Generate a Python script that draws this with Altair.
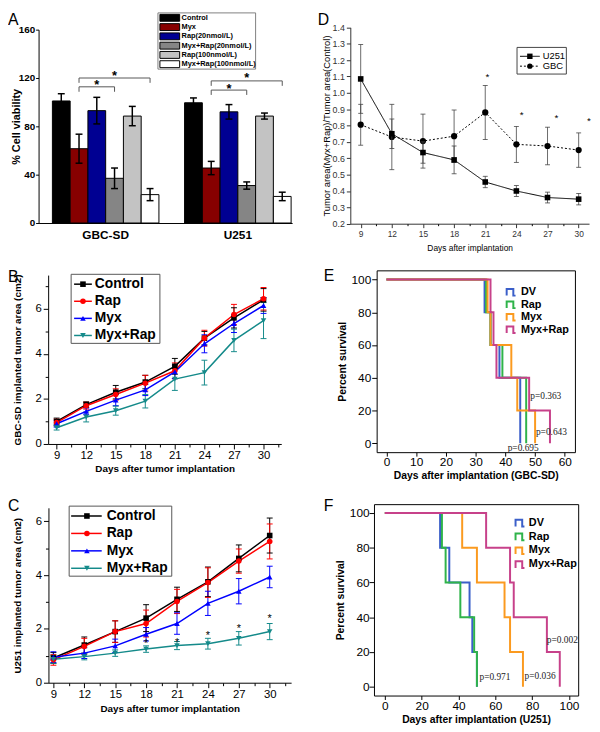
import altair as alt
import pandas as pd

W, H = 592, 724
SANS = "Liberation Sans"
SERIF = "Liberation Serif"

# ===================== DATA =====================
# ---- Panel A : cell viability ----
groupsA = ["GBC-SD", "U251"]
seriesA = ["Control", "Myx", "Rap(20nmol/L)", "Myx+Rap(20nmol/L)", "Rap(100nmol/L)", "Myx+Rap(100nmol/L)"]
colorsA = ["#000000", "#870000", "#000092", "#858585", "#c3c3c3", "#ffffff"]
gbc_viab = [101.0, 61.5, 93.0, 37.0, 88.5, 23.5]
gbc_viab_err = [6.0, 12.0, 11.0, 8.5, 8.0, 5.0]
u251_viab = [99.5, 45.5, 92.0, 31.0, 88.5, 22.0]
u251_viab_err = [4.0, 5.5, 6.0, 3.0, 2.5, 3.5]
br_group = ["GBC-SD", "GBC-SD", "U251", "U251"]
br_from = ["Myx", "Myx", "Myx", "Myx"]
br_to = ["Myx+Rap(20nmol/L)", "Myx+Rap(100nmol/L)", "Myx+Rap(20nmol/L)", "Myx+Rap(100nmol/L)"]
br_top = [112.7, 120.0, 110.0, 117.6]
br_leg = [108.6, 116.0, 106.0, 113.5]
br_star_at = ["Rap(20nmol/L)", "Myx+Rap(20nmol/L)", "Rap(20nmol/L)", "Myx+Rap(20nmol/L)"]
br_star_val = [116.7, 124.0, 113.5, 122.0]
yticksA = [0, 40, 80, 120, 160]

# ---- Panels B, C : tumour growth ----
days = [9, 12, 15, 18, 21, 24, 27, 30]
minor_days = [10.5, 13.5, 16.5, 19.5, 22.5, 25.5, 28.5, 31.5]
seriesBC = ["Control", "Rap", "Myx", "Myx+Rap"]
colorsBC = ["#000000", "#ff0000", "#0000ff", "#148a8a"]
shapesBC = ["square", "circle", "triangle-up", "triangle-down"]

gbc_ctrl = [1.0, 1.75, 2.3, 2.75, 3.45, 4.7, 5.6, 6.4]
gbc_rap = [0.95, 1.7, 2.2, 2.7, 3.25, 4.7, 5.75, 6.45]
gbc_myx = [0.9, 1.45, 1.95, 2.4, 3.2, 4.45, 5.35, 6.15]
gbc_mr = [0.72, 1.2, 1.48, 1.9, 2.88, 3.17, 4.6, 5.48]
gbc_ctrl_err = [0.15, 0.12, 0.3, 0.3, 0.35, 0.3, 0.45, 0.5]
gbc_rap_err = [0.15, 0.15, 0.25, 0.35, 0.35, 0.35, 0.45, 0.5]
gbc_myx_err = [0.15, 0.15, 0.25, 0.25, 0.3, 0.4, 0.4, 0.35]
gbc_mr_err = [0.1, 0.22, 0.2, 0.3, 0.5, 0.55, 0.5, 0.8]

u_ctrl = [0.92, 1.4, 1.9, 2.4, 3.1, 3.75, 4.62, 5.47]
u_rap = [0.85, 1.35, 1.9, 2.2, 3.02, 3.72, 4.52, 5.25]
u_myx = [0.95, 1.1, 1.37, 1.8, 2.2, 2.95, 3.4, 3.93]
u_mr = [0.87, 0.97, 1.1, 1.25, 1.38, 1.45, 1.65, 1.9]
u_ctrl_err = [0.2, 0.3, 0.4, 0.5, 0.45, 0.55, 0.5, 0.65]
u_rap_err = [0.2, 0.3, 0.4, 0.5, 0.45, 0.55, 0.45, 0.65]
u_myx_err = [0.2, 0.2, 0.25, 0.25, 0.4, 0.45, 0.47, 0.4]
u_mr_err = [0.15, 0.12, 0.12, 0.12, 0.15, 0.2, 0.25, 0.3]
starsC_day = [18, 21, 24, 27, 30]
starsC_val = [1.54, 1.6, 1.84, 2.1, 2.46]

# ---- Panel D : ratio ----
seriesD = ["U251", "GBC"]
u251_ratio = [1.085, 0.75, 0.635, 0.59, 0.455, 0.40, 0.36, 0.35]
u251_ratio_err = [0.21, 0.09, 0.065, 0.085, 0.035, 0.033, 0.033, 0.035]
gbc_ratio = [0.805, 0.73, 0.705, 0.735, 0.88, 0.685, 0.675, 0.65]
gbc_ratio_err = [0.125, 0.2, 0.165, 0.16, 0.165, 0.11, 0.115, 0.105]
starsD_day = [21.2, 24.5, 27.85, 31.0]
starsD_val = [1.11, 0.875, 0.86, 0.84]
yticksD = [0.2, 0.3, 0.4, 0.5, 0.6, 0.7, 0.8, 0.9, 1.0, 1.1, 1.2, 1.3, 1.4]

# ---- Panels E, F : survival ----
seriesKM = ["DV", "Rap", "Myx", "Myx+Rap"]
colorsKM = ["#3b5fc9", "#2fb34a", "#fb9a1f", "#c7418a"]
e_days = {"DV": [0, 33, 35, 38, 45], "Rap": [0, 33.5, 35, 39, 47],
          "Myx": [0, 34, 35, 42, 44, 50], "Myx+Rap": [0, 35, 36, 37, 48, 55]}
e_surv = {"DV": [100, 80, 60, 40, 0], "Rap": [100, 80, 60, 40, 0],
          "Myx": [100, 80, 60, 40, 20, 0], "Myx+Rap": [100, 80, 60, 40, 20, 0]}
f_days = {"DV": [0, 30, 35, 46, 47.5, 50], "Rap": [0, 31, 33, 41, 48.5, 50],
          "Myx": [0, 42, 50, 65, 68, 75], "Myx+Rap": [0, 55, 68, 70, 88, 95]}
f_surv = {"DV": [100, 80, 60, 40, 20, 0], "Rap": [100, 80, 60, 40, 20, 0],
          "Myx": [100, 80, 60, 40, 20, 0], "Myx+Rap": [100, 80, 60, 40, 20, 0]}
e_p_text = ["p=0.363", "p=0.643", "p=0.695"]
e_p_day = [53.6, 55.5, 46.0]
e_p_val = [28.7, 6.6, -2.8]
f_p_text = ["p=0.002", "p=0.971", "p=0.036"]
f_p_day = [96.4, 59.8, 84.3]
f_p_val = [26.7, 5.3, 6.25]
ticksE_x = [0, 10, 20, 30, 40, 50, 60]
ticksF_x = [0, 20, 40, 60, 80, 100]
ticks_surv = [0, 20, 40, 60, 80, 100]

one = pd.DataFrame({"k": [0]})


# ===================== HELPERS =====================
def ax(orient, pos, **kw):
    off = {"left": -pos, "top": -pos, "right": pos - W, "bottom": pos - H}[orient]
    p = dict(orient=orient, offset=off, grid=False, domainColor="black", domainWidth=1,
             tickColor="black", tickWidth=1, labelColor="black", titleColor="black",
             labelFont=SANS, titleFont=SANS, labelFlush=False, labelOverlap=False)
    p.update(kw)
    return alt.Axis(**p)


def frame_ax(orient, pos):
    return ax(orient, pos, labels=False, ticks=False, title="")


def minor_ax(orient, pos, values, size=3):
    return ax(orient, pos, values=values, labels=False, domain=False, tickSize=size, title="")


# ===================== PANEL A =====================
rowsA = []
for g, means, errs in [("GBC-SD", gbc_viab, gbc_viab_err), ("U251", u251_viab, u251_viab_err)]:
    for s, m, e in zip(seriesA, means, errs):
        rowsA.append({"group": g, "series": s, "mean": m, "lo": m - e, "hi": m + e})
dfA = pd.DataFrame(rowsA)
capsA = pd.concat([dfA.assign(v=dfA["lo"]), dfA.assign(v=dfA["hi"])], ignore_index=True)

sxA = alt.Scale(domain=groupsA, range=[31, 288], paddingInner=0.194, paddingOuter=0.056, align=0.933)
soA = alt.Scale(domain=seriesA, paddingInner=0, paddingOuter=0)
syA = alt.Scale(domain=[0, 160], range=[213, 17], nice=False)
fillA = alt.Scale(domain=seriesA, range=colorsA)
oA = alt.XOffset("series:N", scale=soA)
xA0 = alt.X("group:N", scale=sxA, axis=None)

axesA = alt.Chart(dfA).mark_point(opacity=0).encode(
    x=alt.X("group:N", scale=sxA,
            axis=ax("bottom", 213, ticks=False, labelAngle=0, labelFontSize=12,
                    labelFontWeight="bold", labelPadding=7, title="")),
    y=alt.Y("mean:Q", scale=syA,
            axis=ax("left", 31, values=yticksA, tickSize=3, labelFontSize=10,
                    labelFontWeight="bold", labelPadding=1, title="% Cell viability",
                    titleFontSize=11, titleFontWeight="bold", titlePadding=-3)),
)
barsA = alt.Chart(dfA).mark_bar(stroke="black", strokeWidth=1).encode(
    x=xA0, xOffset=oA,
    y=alt.Y("mean:Q", scale=syA, axis=None),
    fill=alt.Fill("series:N", scale=fillA, legend=None),
)
errA = alt.Chart(dfA).mark_rule(color="black", strokeWidth=1.5).encode(
    x=xA0, xOffset=oA, y=alt.Y("lo:Q", scale=syA, axis=None), y2="hi:Q")
capA = alt.Chart(capsA).mark_tick(color="black", thickness=1.5, size=7, opacity=1,
                                  orient="horizontal").encode(
    x=xA0, xOffset=oA, y=alt.Y("v:Q", scale=syA, axis=None))
brk_rows = []
for i, (g, f, t, top, leg) in enumerate(zip(br_group, br_from, br_to, br_top, br_leg)):
    for k, (s, v) in enumerate([(f, leg), (f, top), (t, top), (t, leg)]):
        brk_rows.append({"id": i, "k": k, "group": g, "series": s, "v": v})
dfBr = pd.DataFrame(brk_rows)
brkA = alt.Chart(dfBr).mark_line(color="#555555", strokeWidth=1).encode(
    x=xA0, xOffset=oA, y=alt.Y("v:Q", scale=syA, axis=None),
    detail="id:N", order="k:Q")
dfSt = pd.DataFrame({"group": br_group, "series": br_star_at, "v": br_star_val})
starA = alt.Chart(dfSt).mark_text(text="*", font=SANS, fontSize=13, fontWeight="bold",
                                  baseline="middle", dy=3).encode(
    x=xA0, xOffset=oA, y=alt.Y("v:Q", scale=syA, axis=None))
panelA = alt.layer(axesA, barsA, errA, capA, brkA, starA).resolve_axis(x="independent", y="independent")

dfLA = pd.DataFrame({"series": seriesA})
yLA = alt.Y("series:N", scale=alt.Scale(type="point", domain=seriesA, range=[5, 52], padding=0), axis=None)
legA = alt.layer(
    alt.Chart(one).mark_rect(fill="white", stroke="#7f7f7f", strokeWidth=1).encode(
        x=alt.value(152), x2=alt.value(251), y=alt.value(0), y2=alt.value(57)),
    alt.Chart(dfLA).mark_point(shape="M-1,-0.35H1V0.35H-1Z", size=400, filled=True,
                               stroke="black", strokeWidth=1, opacity=1).encode(
        x=alt.value(164), y=yLA, fill=alt.Fill("series:N", scale=fillA, legend=None)),
    alt.Chart(dfLA).mark_text(align="left", baseline="middle", font=SANS, fontSize=7.5,
                              fontWeight="bold").encode(x=alt.value(176), y=yLA, text="series:N"),
)


# ===================== PANEL D =====================
def ratio_df(vals, errs):
    return pd.DataFrame({"day": days, "val": vals,
                         "lo": [v - e for v, e in zip(vals, errs)],
                         "hi": [v + e for v, e in zip(vals, errs)]})


dfDu = ratio_df(u251_ratio, u251_ratio_err)
dfDg = ratio_df(gbc_ratio, gbc_ratio_err)
sxD = alt.Scale(domain=[8, 31], range=[347, 589], nice=False, zero=False)
syD = alt.Scale(domain=[0.2, 1.4], range=[213.7, 14.7], nice=False, zero=False)
xD0 = alt.X("day:Q", scale=sxD, axis=None)
GR = "#444444"


def d_layers(df, dash, shape, size):
    caps = pd.concat([df.assign(v=df["lo"]), df.assign(v=df["hi"])], ignore_index=True)
    return [
        alt.Chart(df).mark_rule(color=GR, strokeWidth=0.8).encode(
            x=xD0, y=alt.Y("lo:Q", scale=syD, axis=None), y2="hi:Q"),
        alt.Chart(caps).mark_tick(color=GR, thickness=0.8, size=5, opacity=1, orient="horizontal").encode(
            x=xD0, y=alt.Y("v:Q", scale=syD, axis=None)),
        alt.Chart(df).mark_line(color="black", strokeWidth=1, strokeDash=dash).encode(
            x=xD0, y=alt.Y("val:Q", scale=syD, axis=None)),
        alt.Chart(df).mark_point(shape=shape, filled=True, size=size, color="black", opacity=1).encode(
            x=xD0, y=alt.Y("val:Q", scale=syD, axis=None)),
    ]


axesD = alt.Chart(dfDu).mark_point(opacity=0).encode(
    x=alt.X("day:Q", scale=sxD,
            axis=ax("bottom", 213.7, values=days, tickSize=4, labelFontSize=8.5, labelPadding=2,
                    labelColor="#333333", domainColor="#333333", tickColor="#333333",
                    title="Days after implantation", titleFontSize=8.5, titleFontWeight="normal",
                    titlePadding=6)),
    y=alt.Y("val:Q", scale=syD,
            axis=ax("left", 347, values=yticksD, format=".1f", tickSize=4, labelFontSize=9,
                    labelPadding=2, labelColor="#333333", domainColor="#333333", tickColor="#333333",
                    title="Tumor area(Myx+Rap)/Tumor area(Control)", titleFontSize=9.5,
                    titleFontWeight="normal", titlePadding=1)),
)
minorD = alt.Chart(dfDu).mark_point(opacity=0).encode(
    x=alt.X("day:Q", scale=sxD, axis=minor_ax("bottom", 213.7, minor_days[:-1], 2)),
    y=alt.Y("val:Q", scale=syD, axis=None))
dfStD = pd.DataFrame({"day": starsD_day, "val": starsD_val})
starD = alt.Chart(dfStD).mark_text(text="*", font=SANS, fontSize=10, baseline="middle", dy=2).encode(
    x=xD0, y=alt.Y("val:Q", scale=syD, axis=None))
panelD = alt.layer(axesD, minorD, *d_layers(dfDg, [2, 2], "circle", 40),
                   *d_layers(dfDu, [1, 0], "square", 32), starD).resolve_axis(x="independent", y="independent")

dfLD = pd.DataFrame({"series": seriesD})
yLD = alt.Y("series:N", scale=alt.Scale(type="point", domain=seriesD, range=[44, 54], padding=0), axis=None)
legD = alt.layer(
    alt.Chart(one).mark_rect(fill="white", stroke="#444444", strokeWidth=1).encode(
        x=alt.value(516), x2=alt.value(566), y=alt.value(35), y2=alt.value(62)),
    alt.Chart(dfLD).mark_rule(color="black", strokeWidth=1).encode(
        x=alt.value(519), x2=alt.value(539), y=yLD,
        strokeDash=alt.StrokeDash("series:N", scale=alt.Scale(domain=seriesD, range=[[1, 0], [2, 2]]), legend=None)),
    alt.Chart(dfLD).mark_point(filled=True, size=30, color="black", opacity=1).encode(
        x=alt.value(529), y=yLD,
        shape=alt.Shape("series:N", scale=alt.Scale(domain=seriesD, range=["square", "circle"]), legend=None)),
    alt.Chart(dfLD).mark_text(align="left", baseline="middle", font=SANS, fontSize=9.5).encode(
        x=alt.value(542), y=yLD, text="series:N"),
)


# ===================== PANELS B, C =====================
def growth_panel(vals, errs, sx, sy, x_pos, y_pos, ytitle, lab_pad, title_pad, ymajor, yminor, stars=None):
    rows = []
    for s, vs, es in zip(seriesBC, vals, errs):
        for d, v, e in zip(days, vs, es):
            rows.append({"day": d, "series": s, "val": v, "lo": v - e, "hi": v + e})
    df = pd.DataFrame(rows)
    caps = pd.concat([df.assign(v=df["lo"]), df.assign(v=df["hi"])], ignore_index=True)
    col = alt.Color("series:N", scale=alt.Scale(domain=seriesBC, range=colorsBC), legend=None)
    shp = alt.Shape("series:N", scale=alt.Scale(domain=seriesBC, range=shapesBC), legend=None)
    x0 = alt.X("day:Q", scale=sx, axis=None)
    axes = alt.Chart(df).mark_point(opacity=0).encode(
        x=alt.X("day:Q", scale=sx,
                axis=ax("bottom", x_pos, values=days, tickSize=5, labelFontSize=11.5, labelPadding=lab_pad,
                        title="Days after tumor implantation", titleFontSize=10,
                        titleFontWeight="bold", titlePadding=title_pad)),
        y=alt.Y("val:Q", scale=sy,
                axis=ax("left", y_pos, values=ymajor, tickSize=5, labelFontSize=11.5, labelPadding=2,
                        title=ytitle, titleFontSize=10, titleFontWeight="bold", titlePadding=13)),
    )
    minor = alt.Chart(df).mark_point(opacity=0).encode(
        x=alt.X("day:Q", scale=sx, axis=minor_ax("bottom", x_pos, minor_days, 3)),
        y=alt.Y("val:Q", scale=sy, axis=minor_ax("left", y_pos, yminor, 3)))
    layers = [
        axes, minor,
        alt.Chart(df).mark_rule(strokeWidth=1).encode(
            x=x0, y=alt.Y("lo:Q", scale=sy, axis=None), y2="hi:Q", color=col),
        alt.Chart(caps).mark_tick(thickness=1, size=6, opacity=1, orient="horizontal").encode(
            x=x0, y=alt.Y("v:Q", scale=sy, axis=None), color=col),
        alt.Chart(df).mark_line(strokeWidth=1.5).encode(
            x=x0, y=alt.Y("val:Q", scale=sy, axis=None), color=col),
        alt.Chart(df).mark_point(filled=True, size=32, opacity=1).encode(
            x=x0, y=alt.Y("val:Q", scale=sy, axis=None), color=col, shape=shp),
    ]
    if stars is not None:
        layers.append(alt.Chart(stars).mark_text(text="*", font=SANS, fontSize=11, baseline="middle", dy=3).encode(
            x=x0, y=alt.Y("val:Q", scale=sy, axis=None)))
    return alt.layer(*layers).resolve_axis(x="independent", y="independent")


def growth_legend(box, ys, x_line, x_mark, x_text, fsize):
    dfl = pd.DataFrame({"series": seriesBC})
    yl = alt.Y("series:N", scale=alt.Scale(type="point", domain=seriesBC, range=ys, padding=0), axis=None)
    col = alt.Color("series:N", scale=alt.Scale(domain=seriesBC, range=colorsBC), legend=None)
    shp = alt.Shape("series:N", scale=alt.Scale(domain=seriesBC, range=shapesBC), legend=None)
    return alt.layer(
        alt.Chart(one).mark_rect(fill="white", stroke="#555555", strokeWidth=1).encode(
            x=alt.value(box[0]), x2=alt.value(box[1]), y=alt.value(box[2]), y2=alt.value(box[3])),
        alt.Chart(dfl).mark_rule(strokeWidth=1.5).encode(
            x=alt.value(x_line[0]), x2=alt.value(x_line[1]), y=yl, color=col),
        alt.Chart(dfl).mark_point(filled=True, size=32, opacity=1).encode(
            x=alt.value(x_mark), y=yl, color=col, shape=shp),
        alt.Chart(dfl).mark_text(align="left", baseline="middle", font=SANS, fontSize=fsize,
                                 fontWeight="bold", color="black").encode(
            x=alt.value(x_text), y=yl, text="series:N"),
    )


sxB = alt.Scale(domain=[8.14, 31.8], range=[40.7, 277], nice=False, zero=False)
syB = alt.Scale(domain=[0, 7.5], range=[437, 265.8], nice=False, zero=False)
panelB = growth_panel([gbc_ctrl, gbc_rap, gbc_myx, gbc_mr], [gbc_ctrl_err, gbc_rap_err, gbc_myx_err, gbc_mr_err],
                      sxB, syB, 437, 40.7, "GBC-SD implanted tumor area (cm2)", 1, 2, [0, 2, 4, 6], [1, 3, 5, 7])
legB = growth_legend([64, 154, 265, 335], [275, 327], [67, 85], 76, 88, 14)

sxC = alt.Scale(domain=[8.52, 32.08], range=[41, 287], nice=False, zero=False)
syC = alt.Scale(domain=[0, 6.5], range=[679, 501.7], nice=False, zero=False)
dfStC = pd.DataFrame({"day": starsC_day, "val": starsC_val})
panelC = growth_panel([u_ctrl, u_rap, u_myx, u_mr], [u_ctrl_err, u_rap_err, u_myx_err, u_mr_err],
                      sxC, syC, 679, 41, "U251 implanted tumor area (cm2)", 1, 4, [0, 2, 4, 6], [1, 3, 5], dfStC)
legC = growth_legend([62, 166, 500, 571], [510, 563], [64, 95], 80, 100, 14)


# ===================== PANELS E, F =====================
def km_panel(cdays, csurv, sx, sy, box, xticks, xtitle, p_text, p_day, p_val, ylab_pad):
    left, right, top, bottom = box
    col = alt.Color("series:N", scale=alt.Scale(domain=seriesKM, range=colorsKM), legend=None)
    x0 = alt.X("day:Q", scale=sx, axis=None)
    base = pd.DataFrame({"day": [0], "surv": [100]})
    axes = alt.Chart(base).mark_point(opacity=0).encode(
        x=alt.X("day:Q", scale=sx,
                axis=ax("bottom", bottom, values=xticks, tickSize=4, labelFontSize=12, labelPadding=1,
                        title=xtitle, titleFontSize=10.5, titleFontWeight="bold", titlePadding=3)),
        y=alt.Y("surv:Q", scale=sy,
                axis=ax("left", left, values=ticks_surv, tickSize=5, labelFontSize=12, labelPadding=ylab_pad,
                        title="Percent survival", titleFontSize=10.5, titleFontWeight="bold", titlePadding=4)),
    )
    frame = alt.Chart(base).mark_point(opacity=0).encode(
        x=alt.X("day:Q", scale=sx, axis=frame_ax("top", top)),
        y=alt.Y("surv:Q", scale=sy, axis=frame_ax("right", right)))
    layers = [axes, frame]
    for s in seriesKM:
        dfs = pd.DataFrame({"day": cdays[s], "surv": csurv[s], "series": s})
        layers.append(alt.Chart(dfs).mark_line(interpolate="step-after", strokeWidth=2).encode(
            x=x0, y=alt.Y("surv:Q", scale=sy, axis=None), color=col))
    dfp = pd.DataFrame({"day": p_day, "surv": p_val, "txt": p_text})
    layers.append(alt.Chart(dfp).mark_text(font=SERIF, fontSize=9.5, color="#222222", baseline="middle").encode(
        x=x0, y=alt.Y("surv:Q", scale=sy, axis=None), text="txt:N"))
    return alt.layer(*layers).resolve_axis(x="independent", y="independent")


def km_legend(ys, x_sym, x_text):
    dfl = pd.DataFrame({"series": seriesKM})
    yl = alt.Y("series:N", scale=alt.Scale(type="point", domain=seriesKM, range=ys, padding=0), axis=None)
    col = alt.Color("series:N", scale=alt.Scale(domain=seriesKM, range=colorsKM), legend=None)
    return alt.layer(
        alt.Chart(dfl).mark_point(shape="M-1,0.8L-1,-0.7L0.5,-0.7L0.5,0.8L1,0.8", size=81, filled=False,
                                  strokeWidth=2, opacity=1).encode(x=alt.value(x_sym), y=yl, color=col),
        alt.Chart(dfl).mark_text(align="left", baseline="middle", font=SANS, fontSize=11,
                                 fontWeight="bold", color="black").encode(x=alt.value(x_text), y=yl, text="series:N"),
    )


sxE = alt.Scale(domain=[-3.3, 63.4], range=[373.7, 574.7], nice=False, zero=False)
syE = alt.Scale(domain=[-5.4, 105.6], range=[445.3, 261], nice=False, zero=False)
panelE = km_panel(e_days, e_surv, sxE, syE, (373.7, 574.7, 261, 445.3), ticksE_x,
                  "Days after implantation (GBC-SD)", e_p_text, e_p_day, e_p_val, 1)
legE = km_legend([283, 321], 510, 520)

sxF = alt.Scale(domain=[-5.9, 105], range=[371, 578], nice=False, zero=False)
syF = alt.Scale(domain=[-5.1, 105.1], range=[692, 498], nice=False, zero=False)
panelF = km_panel(f_days, f_surv, sxF, syF, (371, 578, 498, 692), ticksF_x,
                  "Days after implantation (U251)", f_p_text, f_p_day, f_p_val, 0)
legF = km_legend([517, 559], 519, 528)


# ===================== PANEL LETTERS =====================
def letter(t, x, y):
    return alt.Chart(one).mark_text(text=t, font=SANS, fontSize=16, align="left", baseline="top",
                                    color="black").encode(x=alt.value(x), y=alt.value(y))


letters = [letter("A", 0, -1), letter("D", 314, -1), letter("B", 0, 260),
           letter("E", 320, 259), letter("C", 0, 492), letter("F", 320, 492)]

chart = alt.layer(
    panelA, legA, panelD, legD, panelB, legB, panelC, legC, panelE, legE, panelF, legF, *letters
).resolve_scale(
    x="independent", y="independent", color="independent", fill="independent",
    shape="independent", strokeDash="independent"
).resolve_axis(
    x="independent", y="independent"
).properties(
    width=W, height=H, padding=0, autosize=alt.AutoSizeParams(type="none")
).configure_view(strokeWidth=0)

chart.save("out.html", embed_options={"renderer": "svg", "actions": False})
